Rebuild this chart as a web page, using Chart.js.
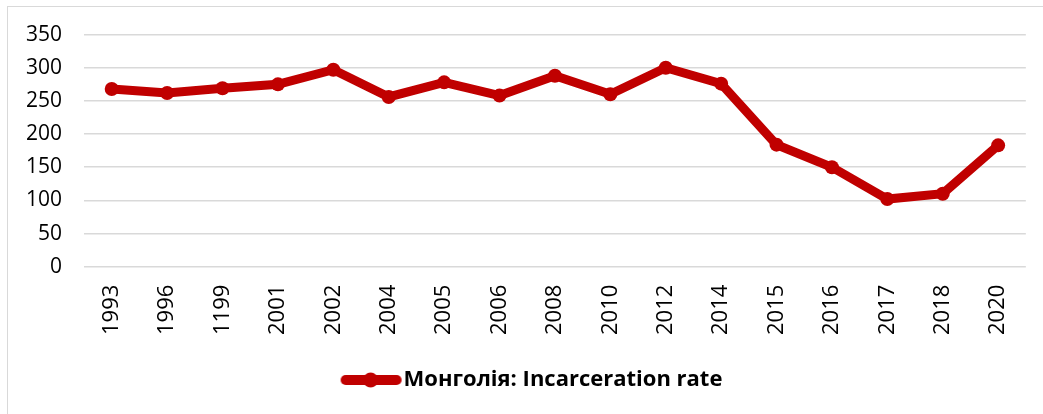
<!DOCTYPE html>
<html>
<head>
<meta charset="utf-8">
<script src="https://cdn.jsdelivr.net/npm/chart.js@4/dist/chart.umd.min.js"></script>
<style>
  html, body { margin: 0; padding: 0; background: #fff; }
  #frame {
    position: absolute; left: 7px; top: 6px; right: 0; bottom: 0;
    border-top: 1px solid #d9d9d9; border-left: 1px solid #d9d9d9;
  }
  #wrap { position: absolute; left: 0; top: 0; width: 1043px; height: 414px; }
</style>
</head>
<body>
<div id="frame"></div>
<div id="wrap"><canvas id="rateChart"></canvas></div>
<script>
const years = ["1993","1996","1199","2001","2002","2004","2005","2006","2008","2010","2012","2014","2015","2016","2017","2018","2020"];
const rates = [268, 262, 269, 275, 297, 256, 278, 258, 288, 260, 300, 276, 184, 150, 102, 110, 183];
const yTicks = [0, 50, 100, 150, 200, 250, 300, 350];
const seriesName = "Монголія: Incarceration rate";

const lineColor = "#c00000";
const fontFamily = "'Open Sans', 'Liberation Sans', sans-serif";

// legend marker: thick line with a dot, drawn once into a small canvas
function legendMarker(){
    const c = document.createElement("canvas");
    c.width = 120;
    c.height = 16;
    const g = c.getContext("2d");
    g.strokeStyle = lineColor;
    g.lineWidth = 10;
    g.lineCap = "round";
    g.beginPath();
    g.moveTo(55, 8);
    g.lineTo(106, 8);
    g.stroke();
    g.fillStyle = lineColor;
    g.beginPath();
    g.arc(80, 8, 7.5, 0, Math.PI * 2);
    g.fill();
    return c;
}

function createChart(){
    const canvas = document.getElementById("rateChart");
    const marker = legendMarker();
    new Chart(canvas, {
        type: "line",
        data: {
            labels: years,
            datasets: [{
                label: seriesName,
                data: rates,
                borderColor: lineColor,
                backgroundColor: lineColor,
                borderWidth: 9,
                pointRadius: 7,
                pointBorderWidth: 0,
                pointBackgroundColor: lineColor,
                pointHoverRadius: 7,
                tension: 0
            }]
        },
        options: {
            responsive: true,
            maintainAspectRatio: false,
            animation: false,
            layout: { padding: { left: 4, right: 16, top: 22, bottom: 13 } },
            plugins: {
                legend: {
                    position: "bottom",
                    labels: {
                        color: "#000",
                        font: { family: fontFamily, size: 22, weight: "bold" },
                        usePointStyle: true,
                        pointStyleWidth: 84,
                        padding: 16,
                        generateLabels: chart => [{
                            text: seriesName,
                            pointStyle: marker,
                            fillStyle: lineColor,
                            strokeStyle: lineColor,
                            lineWidth: 0,
                            datasetIndex: 0
                        }]
                    }
                },
                tooltip: { enabled: false }
            },
            scales: {
                x: {
                    offset: true,
                    grid: { display: false, drawTicks: false },
                    border: { display: false },
                    ticks: {
                        color: "#000",
                        font: { family: fontFamily, size: 22 },
                        minRotation: 90,
                        maxRotation: 90,
                        padding: 18
                    }
                },
                y: {
                    min: 0,
                    max: 350,
                    afterBuildTicks: axis => { axis.ticks = yTicks.map(v => ({ value: v })); },
                    grid: { color: "#d9d9d9", lineWidth: 1.5, drawTicks: false },
                    border: { display: false },
                    ticks: {
                        color: "#000",
                        font: { family: fontFamily, size: 21 },
                        padding: 22
                    }
                }
            }
        }
    });
}

createChart();
</script>
</body>
</html>
